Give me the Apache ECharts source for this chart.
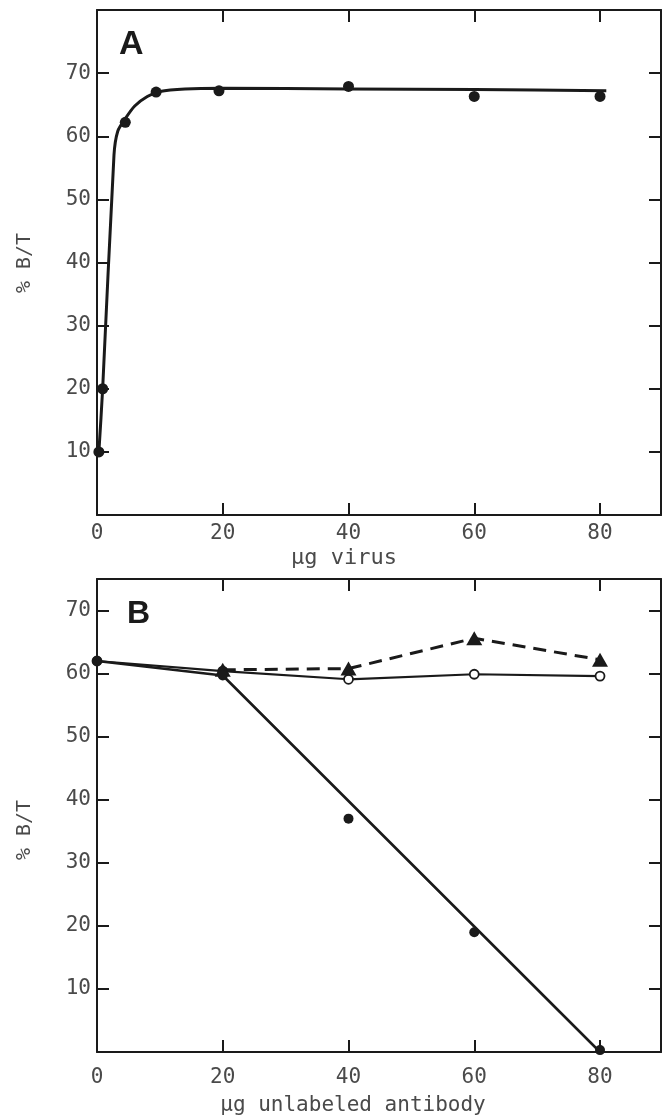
<!DOCTYPE html>
<html>
<head>
<meta charset="utf-8">
<script src="https://cdn.jsdelivr.net/npm/echarts@6/dist/echarts.min.js"></script>
<style>
  html, body { margin: 0; padding: 0; background: #fff; }
  #chart { width: 664px; height: 1119px; }
</style>
</head>
<body>
<div id="chart"></div>
<script>
// Panel A: % B/T vs ug virus
const virusPoints = [[0.3, 10], [0.9, 20], [4.5, 62.2], [9.4, 67.0], [19.4, 67.2], [40, 67.9], [60, 66.3], [80, 66.3]];
const virusCurve = [[0.3, 10], [0.9, 20], [2.7, 57], [3.3, 60.8], [4.5, 62.8], [6, 64.8], [8, 66.3], [10, 67.1], [14, 67.5], [20, 67.6], [40, 67.5], [60, 67.4], [81, 67.2]];

// Panel B: % B/T vs ug unlabeled antibody
const filledPoints = [[0, 62], [20, 59.7], [40, 37], [60, 19], [80, 0.3]];
const filledFit = [[0, 62], [20, 59.7], [80, 0]];
const openPoints = [[0, 62], [20, 60.4], [40, 59.1], [60, 59.9], [80, 59.6]];
const trianglePoints = [[20, 60.6], [40, 60.8], [60, 65.6], [80, 62.2]];

const xTicks = [0, 20, 40, 60, 80];
const yTicks = [10, 20, 30, 40, 50, 60, 70];

const ink = '#1a1a1a';
const textColor = '#4a4a4a';
const mono = '"DejaVu Sans Mono", monospace';

const chart = echarts.init(document.getElementById('chart'));

function xAx(grid, pos, showLabel, margin) {
  return {
    gridIndex: grid, type: 'value', position: pos, min: 0, max: 89.7, interval: 20,
    axisLine: { show: true, onZero: false, lineStyle: { color: ink, width: 2 } },
    axisTick: { show: true, inside: true, length: 12, lineStyle: { color: ink, width: 2 } },
    axisLabel: {
      show: showLabel, margin: margin, color: textColor, fontFamily: mono, fontSize: 21,
      formatter: v => (xTicks.includes(v) ? String(v) : '')
    },
    splitLine: { show: false }
  };
}

function yAx(grid, pos, max, showLabel) {
  return {
    gridIndex: grid, type: 'value', position: pos, min: 0, max: max, interval: 10,
    axisLine: { show: true, onZero: false, lineStyle: { color: ink, width: 2 } },
    axisTick: { show: true, inside: true, length: 12, lineStyle: { color: ink, width: 2 } },
    axisLabel: {
      show: showLabel, margin: 6, color: textColor, fontFamily: mono, fontSize: 21,
      formatter: v => (yTicks.includes(v) ? String(v) : '')
    },
    splitLine: { show: false }
  };
}

const option = {
  backgroundColor: '#fff',
  animation: false,
  grid: [
    { left: 97, top: 10, width: 565, height: 505 },
    { left: 97, top: 579, width: 565, height: 473 }
  ],
  xAxis: [
    xAx(0, 'bottom', true, 8),
    xAx(0, 'top', false, 8),
    xAx(1, 'bottom', true, 15),
    xAx(1, 'top', false, 8)
  ],
  yAxis: [
    yAx(0, 'left', 80, true),
    yAx(0, 'right', 80, false),
    yAx(1, 'left', 75, true),
    yAx(1, 'right', 75, false)
  ],
  graphic: [
    { type: 'text', left: 119, top: 28, style: { text: 'A', font: 'bold 34px "Liberation Sans", Arial, sans-serif', fill: ink } },
    { type: 'text', left: 127, top: 598, style: { text: 'B', font: 'bold 32px "Liberation Sans", Arial, sans-serif', fill: ink } },
    { type: 'text', x: 344, y: 558, style: { text: 'μg virus', font: '22px ' + mono, fill: textColor, align: 'center', verticalAlign: 'middle' } },
    { type: 'text', x: 353, y: 1106, style: { text: 'μg unlabeled antibody', font: '21px ' + mono, fill: textColor, align: 'center', verticalAlign: 'middle' } },
    { type: 'text', x: 25, y: 263, rotation: Math.PI / 2, style: { text: '% B/T', font: '20px ' + mono, fill: textColor, align: 'center', verticalAlign: 'middle' } },
    { type: 'text', x: 25, y: 830, rotation: Math.PI / 2, style: { text: '% B/T', font: '20px ' + mono, fill: textColor, align: 'center', verticalAlign: 'middle' } }
  ],
  series: [
    {
      type: 'line', xAxisIndex: 0, yAxisIndex: 0, data: virusCurve, smooth: 0.25,
      showSymbol: false, lineStyle: { color: ink, width: 3 }
    },
    {
      type: 'scatter', xAxisIndex: 0, yAxisIndex: 0, data: virusPoints,
      symbol: 'circle', symbolSize: 11, itemStyle: { color: ink, opacity: 1 }, z: 5
    },
    {
      type: 'line', xAxisIndex: 2, yAxisIndex: 2, data: openPoints,
      symbol: 'circle', symbolSize: 9, showAllSymbol: true,
      lineStyle: { color: ink, width: 2.2 },
      itemStyle: { color: '#fff', borderColor: ink, borderWidth: 1.8 }, z: 3
    },
    {
      type: 'line', xAxisIndex: 2, yAxisIndex: 2, data: trianglePoints,
      symbol: 'triangle', symbolSize: [16, 14], showAllSymbol: true,
      lineStyle: { color: ink, width: 3, type: [13, 8] },
      itemStyle: { color: ink }, z: 4
    },
    {
      type: 'line', xAxisIndex: 2, yAxisIndex: 2, data: filledFit,
      showSymbol: false, lineStyle: { color: ink, width: 2.6 }, z: 3
    },
    {
      type: 'scatter', xAxisIndex: 2, yAxisIndex: 2, data: filledPoints,
      symbol: 'circle', symbolSize: 10, itemStyle: { color: ink, opacity: 1 }, z: 5
    }
  ]
};

chart.setOption(option);
</script>
</body>
</html>
